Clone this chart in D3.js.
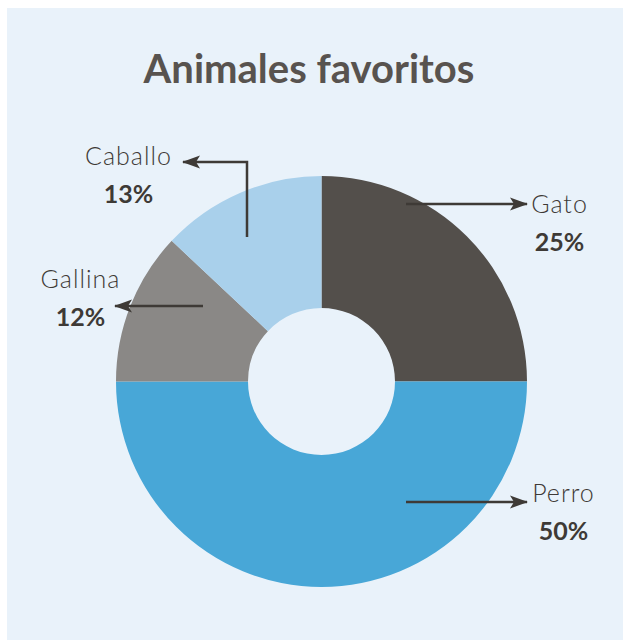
<!DOCTYPE html>
<html>
<head>
<meta charset="utf-8">
<script src="https://cdn.jsdelivr.net/npm/d3@7"></script>
<style>
  body { margin: 0; background: #fff; }
  svg { display: block; }
</style>
</head>
<body>
<div id="chart"></div>
<script>
// data
var title = "Animales favoritos";
var categories = ["Gato", "Perro", "Gallina", "Caballo"];
var values = [25, 50, 12, 13];
var colors = ["#534f4b", "#48a7d7", "#8a8886", "#a9d0eb"];

// arrow + label placement, offsets from the pie centre
var labelLayout = {
  Gato:    { path: [[84.5, -177.5], [205.5, -177.5]], lx: 238, ly: -168.5 },
  Perro:   { path: [[84.5, 120.5], [205.5, 120.5]], lx: 242, ly: 120.5 },
  Gallina: { path: [[-118.5, -75.5], [-206.5, -75.5]], lx: -241, ly: -93.5 },
  Caballo: { path: [[-74.5, -144.5], [-74.5, -219.5], [-138.5, -219.5]], lx: -193, ly: -216.5 }
};

function init() {
  var w = 623, h = 640;
  var cx = 321.5, cy = 381.5;
  var outerR = 205.5, innerR = 73.5;
  var bg = "#e9f2fa";
  var ink = "#3e3a36";

  var svg = d3.select("#chart").append("svg")
    .attr("width", w)
    .attr("height", h);

  // light panel
  svg.append("rect")
    .attr("x", 7).attr("y", 8)
    .attr("width", w - 7).attr("height", h - 8)
    .attr("fill", bg);

  svg.append("text")
    .attr("x", 309).attr("y", 83)
    .attr("text-anchor", "middle")
    .style("font-family", "Lato, 'Open Sans', sans-serif")
    .style("font-weight", 700)
    .style("font-size", "40px")
    .style("fill", "#58534f")
    .text(title);

  var dataset = categories.map(function(c, i) { return { name: c, value: values[i], color: colors[i] }; });

  var pie = d3.pie().sort(null).value(function(d) { return d.value; });
  var arc = d3.arc().innerRadius(innerR).outerRadius(outerR);

  var g = svg.append("g").attr("transform", "translate(" + cx + "," + cy + ")");

  g.selectAll("path.slice")
    .data(pie(dataset))
    .enter()
    .append("path")
      .attr("class", "slice")
      .attr("d", arc)
      .attr("fill", function(d) { return d.data.color; });

  // arrow head
  svg.append("defs").append("marker")
    .attr("id", "head")
    .attr("markerUnits", "userSpaceOnUse")
    .attr("viewBox", "0 0 18 14")
    .attr("refX", 17).attr("refY", 7)
    .attr("markerWidth", 18).attr("markerHeight", 14)
    .attr("orient", "auto")
    .append("path")
      .attr("d", "M0,0.5 L18,7 L0,13.5 L4,7 Z")
      .attr("fill", ink);

  var line = d3.line();
  var labels = g.selectAll("g.label")
    .data(dataset)
    .enter()
    .append("g")
      .attr("class", "label");

  labels.append("path")
    .attr("d", function(d) { return line(labelLayout[d.name].path); })
    .attr("fill", "none")
    .attr("stroke", ink)
    .attr("stroke-width", 2.5)
    .attr("marker-end", "url(#head)");

  labels.append("text")
    .attr("x", function(d) { return labelLayout[d.name].lx; })
    .attr("y", function(d) { return labelLayout[d.name].ly; })
    .attr("text-anchor", "middle")
    .style("font-family", "Lato, 'Open Sans', sans-serif")
    .style("font-weight", 300)
    .style("font-size", "25px")
    .style("letter-spacing", "1px")
    .style("fill", ink)
    .text(function(d) { return d.name; });

  labels.append("text")
    .attr("x", function(d) { return labelLayout[d.name].lx; })
    .attr("y", function(d) { return labelLayout[d.name].ly + 38; })
    .attr("text-anchor", "middle")
    .style("font-family", "Lato, 'Open Sans', sans-serif")
    .style("font-weight", 700)
    .style("font-size", "25px")
    .style("fill", ink)
    .text(function(d) { return d.value + "%"; });
}
window.onload = init;
</script>
</body>
</html>
